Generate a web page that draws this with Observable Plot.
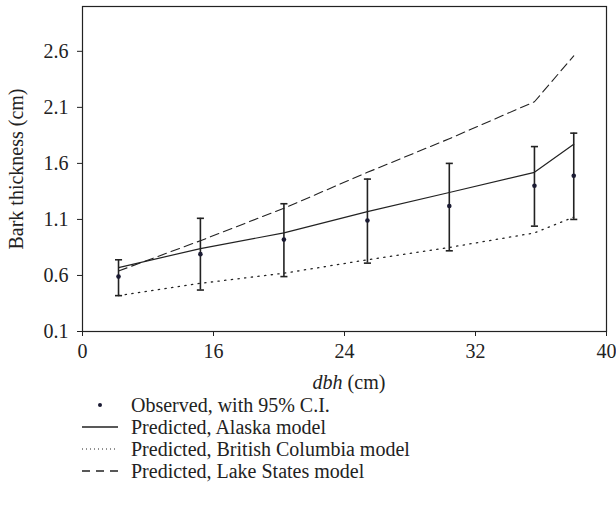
<!DOCTYPE html>
<html>
<head>
<meta charset="utf-8">
<script src="https://cdn.jsdelivr.net/npm/d3@7"></script>
<script src="https://cdn.jsdelivr.net/npm/@observablehq/plot@0.6"></script>
<style>
  html, body { margin: 0; padding: 0; background: #fff; }
  #wrap { position: relative; width: 616px; height: 518px; font-family: "Liberation Serif", "DejaVu Serif", serif; color: #222; }
  #chart svg { display: block; }
  .xlabel { position: absolute; left: 92px; width: 514px; top: 371px; text-align: center; font-size: 20px; line-height: 22px; }
  .legend { position: absolute; left: 82px; top: 394px; font-size: 20px; }
  .row { display: flex; align-items: center; height: 22px; }
  .row svg { width: 40px; height: 20px; margin-right: 9px; flex: none; }
</style>
</head>
<body>
<div id="wrap">
  <div id="chart"></div>
  <div class="xlabel"><i>dbh</i> (cm)</div>
  <div class="legend" id="legend"></div>
</div>
<script>
// ---- data ----
const dbh = [10.2, 15.2, 20.3, 25.4, 30.4, 35.6, 38.0];
const observed = [0.59, 0.79, 0.92, 1.09, 1.22, 1.40, 1.49];
const ciLow = [0.42, 0.47, 0.59, 0.71, 0.82, 1.04, 1.10];
const ciHigh = [0.74, 1.11, 1.24, 1.46, 1.60, 1.75, 1.87];
const alaska = [0.67, 0.84, 0.98, 1.17, 1.34, 1.52, 1.77];
const britishColumbia = [0.42, 0.53, 0.62, 0.74, 0.85, 0.98, 1.12];
const lakeStates = [0.64, 0.91, 1.20, 1.52, 1.82, 2.15, 2.56];
const xTickValues = [8, 16, 24, 32, 40];
const xTickLabels = ["0", "16", "24", "32", "40"];
const yTickValues = [0.1, 0.6, 1.1, 1.6, 2.1, 2.6];
const legendLabels = [
  "Observed, with 95% C.I.",
  "Predicted, Alaska model",
  "Predicted, British Columbia model",
  "Predicted, Lake States model"
];

const rows = dbh.map((x, i) => ({
  x, obs: observed[i], lo: ciLow[i], hi: ciHigh[i],
  ak: alaska[i], bc: britishColumbia[i], ls: lakeStates[i]
}));

const ink = "#222";
const capSymbol = {
  draw(ctx, size) {
    const r = Math.sqrt(size) / 2;
    ctx.moveTo(-r, 0);
    ctx.lineTo(r, 0);
  }
};

const chart = Plot.plot({
  width: 616,
  height: 368,
  marginLeft: 82,
  marginRight: 10,
  marginTop: 6,
  marginBottom: 37,
  style: { fontFamily: "'Liberation Serif', 'DejaVu Serif', serif", fontSize: "20px", color: ink, background: "white", overflow: "visible" },
  x: { domain: [8, 40] },
  y: { domain: [0.1, 3.0] },
  marks: [
    Plot.frame({ stroke: ink, strokeWidth: 1.2 }),
    Plot.axisX({
      ticks: xTickValues,
      tickFormat: d => xTickLabels[xTickValues.indexOf(d)],
      tickSize: 5, tickPadding: 7, label: null, stroke: ink
    }),
    Plot.axisY({
      ticks: yTickValues,
      tickFormat: d3.format(".1f"),
      tickSize: 5, tickPadding: 9, stroke: ink,
      label: "Bark thickness (cm)", labelAnchor: "center", labelArrow: "none", labelOffset: 74
    }),
    Plot.line(rows, { x: "x", y: "ls", stroke: ink, strokeWidth: 1.1, strokeDasharray: "9,5" }),
    Plot.line(rows, { x: "x", y: "bc", stroke: ink, strokeWidth: 1.3, strokeDasharray: "1.3,5.4" }),
    Plot.line(rows, { x: "x", y: "ak", stroke: ink, strokeWidth: 1.2 }),
    Plot.ruleX(rows, { x: "x", y1: "lo", y2: "hi", stroke: ink, strokeWidth: 1.6 }),
    Plot.dot(rows, { x: "x", y: "lo", symbol: capSymbol, r: 4, stroke: ink, strokeWidth: 1.6, fill: "none" }),
    Plot.dot(rows, { x: "x", y: "hi", symbol: capSymbol, r: 4, stroke: ink, strokeWidth: 1.6, fill: "none" }),
    Plot.dot(rows, { x: "x", y: "obs", r: 2.3, fill: "#1b1b33", stroke: "none" })
  ]
});
document.getElementById("chart").appendChild(chart);

// ---- legend ----
const legend = d3.select("#legend");
const styles = [
  { type: "dot" },
  { type: "line", dash: null },
  { type: "line", dash: "1,3" },
  { type: "line", dash: "8,6" }
];
legendLabels.forEach((label, i) => {
  const row = legend.append("div").attr("class", "row");
  const s = row.append("svg").attr("viewBox", "0 0 40 20");
  const st = styles[i];
  if (st.type === "dot") {
    s.append("circle").attr("cx", 18).attr("cy", 10).attr("r", 2).attr("fill", "#1b1b33");
  } else {
    s.append("line").attr("x1", 0).attr("x2", 36).attr("y1", 10).attr("y2", 10)
      .attr("stroke", ink).attr("stroke-width", st.dash === "1,3" ? 1 : 1.3)
      .attr("stroke-dasharray", st.dash);
  }
  row.append("span").text(label);
});
</script>
</body>
</html>
